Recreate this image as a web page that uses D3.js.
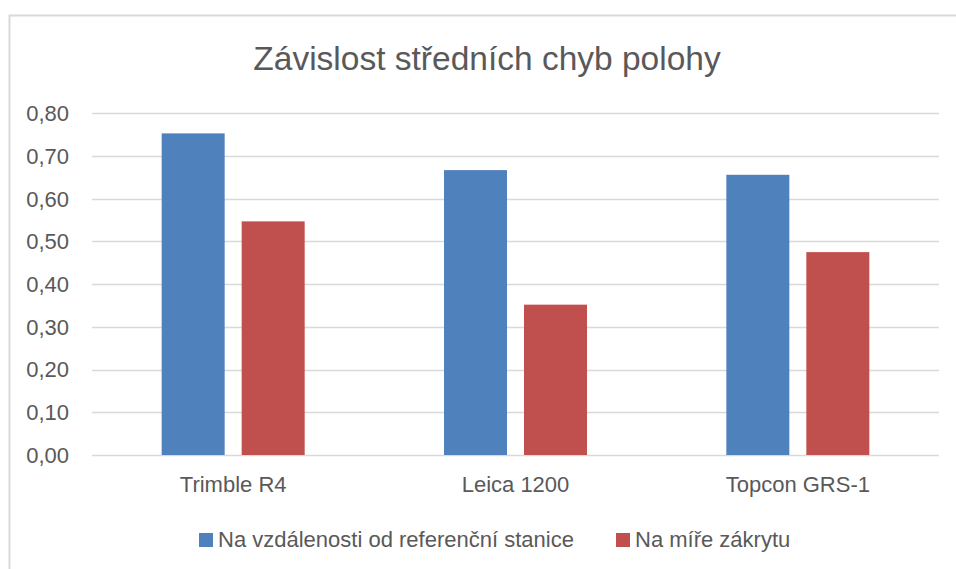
<!DOCTYPE html>
<html>
<head>
<meta charset="utf-8">
<script src="https://cdn.jsdelivr.net/npm/d3@7"></script>
<style>
  body { margin: 0; background: #fff; }
  text { font-family: "Liberation Sans", Arial, sans-serif; fill: #595959; }
</style>
</head>
<body>
<script>
var svgWidth = 956;
var svgHeight = 569;

var categories = ['Trimble R4', 'Leica 1200', 'Topcon GRS-1'];
var seriesNames = ['Na vzdálenosti od referenční stanice', 'Na míře zákrytu'];
var vzdalenost = [0.753, 0.667, 0.656];
var zakryt = [0.547, 0.352, 0.475];
var yTicks = [0, 0.1, 0.2, 0.3, 0.4, 0.5, 0.6, 0.7, 0.8];
var colors = ['#4F81BD', '#C0504D'];

var rows = categories.map(function(c, i){
	return {cat: c, values: [vzdalenost[i], zakryt[i]]};
});

var plot = {left: 92, right: 939, top: 113.3, bottom: 455};

var svg = d3.select('body').append('svg')
						.attr('width', svgWidth)
						.attr('height', svgHeight);

// chart frame (only left and top edges are inside the picture)
svg.append('rect')
	.attr('x', 9.5).attr('y', 15.5)
	.attr('width', svgWidth + 20).attr('height', svgHeight + 20)
	.attr('fill', 'none')
	.attr('stroke', '#D9D9D9')
	.attr('stroke-width', 2);

svg.append('text')
	.attr('x', 487).attr('y', 70)
	.attr('text-anchor', 'middle')
	.style('font-size', '33.5px')
	.text('Závislost středních chyb polohy');

var y = d3.scaleLinear().domain([0, 0.8]).range([plot.bottom, plot.top]);
var x0 = d3.scaleBand().domain(categories).range([plot.left, plot.right]);
var groupW = 143;
var x1 = d3.scaleBand().domain([0, 1])
	.range([x0.bandwidth()/2 - groupW/2, x0.bandwidth()/2 + groupW/2])
	.paddingInner(0.2125);

// gridlines
svg.append('g').selectAll('line').data(yTicks)
	.enter().append('line')
		.attr('x1', plot.left).attr('x2', plot.right)
		.attr('y1', function(d){return Math.round(y(d)) + 0.5})
		.attr('y2', function(d){return Math.round(y(d)) + 0.5})
		.attr('stroke', '#D9D9D9')
		.attr('stroke-width', 1.5);

// y labels
var fmt = function(d){return d3.format('.2f')(d).replace('.', ',')};
svg.append('g').selectAll('text').data(yTicks)
	.enter().append('text')
		.attr('x', 69)
		.attr('y', function(d){return y(d)})
		.attr('dy', '0.36em')
		.attr('text-anchor', 'end')
		.style('font-size', '22px')
		.text(fmt);

// bars
var groups = svg.append('g').selectAll('g').data(rows)
	.enter().append('g')
		.attr('transform', function(d){return 'translate(' + x0(d.cat) + ',0)'});

groups.selectAll('rect').data(function(d){return d.values})
	.enter().append('rect')
		.attr('x', function(d, i){return x1(i)})
		.attr('width', x1.bandwidth())
		.attr('y', function(d){return y(d)})
		.attr('height', function(d){return y(0) - y(d)})
		.attr('fill', function(d, i){return colors[i]});

// category labels
svg.append('g').selectAll('text').data(categories)
	.enter().append('text')
		.attr('x', function(d){return x0(d) + x0.bandwidth()/2})
		.attr('y', 492)
		.attr('text-anchor', 'middle')
		.style('font-size', '22px')
		.text(function(d){return d});

// legend
var legendX = [199, 616];
var legend = svg.append('g').selectAll('g').data(seriesNames)
	.enter().append('g')
		.attr('transform', function(d, i){return 'translate(' + legendX[i] + ',533)'});
legend.append('rect')
	.attr('width', 14).attr('height', 14)
	.attr('fill', function(d, i){return colors[i]});
legend.append('text')
	.attr('x', 19).attr('y', 14)
	.style('font-size', '22px')
	.text(function(d){return d});
</script>
</body>
</html>
